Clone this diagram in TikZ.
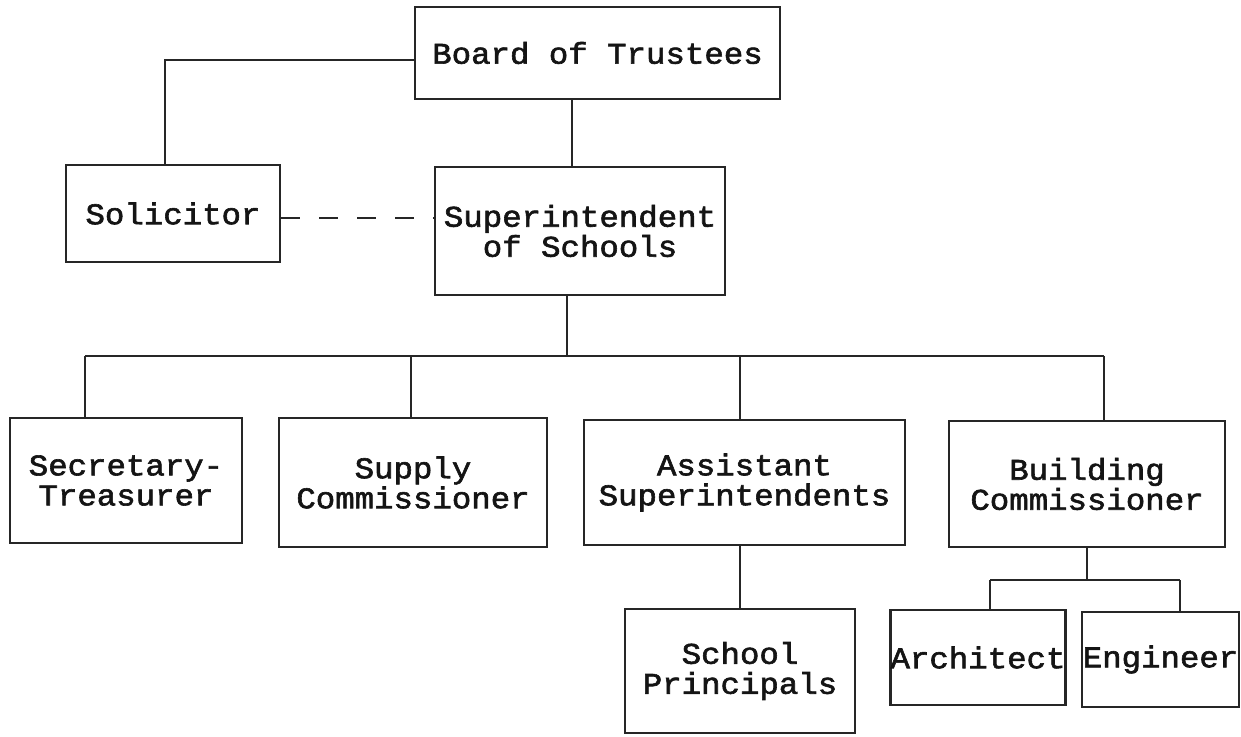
\documentclass[tikz,border=0pt]{standalone}
\usepackage{fontspec}
\newfontfamily\typewriter[FakeStretch=1.08,FakeBold=2]{Liberation Mono}
\definecolor{ink}{HTML}{262626}
\begin{document}
\begin{tikzpicture}[x=1pt,y=-1pt,
  office/.style={draw=ink, line width=2.8pt, rectangle, inner sep=0pt,
    align=center, text=black!92,
    font=\typewriter\fontsize{30}{30}\selectfont},
  link/.style={draw=ink, line width=2.4pt},
  advisory/.style={link, dash pattern=on 19pt off 19pt}]
\useasboundingbox (0,0) rectangle (1241,736);

% offices
\node[office, minimum width=365pt, minimum height=92pt]  (board) at (597.5,53)   {Board of Trustees};
\node[office, minimum width=214pt, minimum height=97pt]  (sol)   at (173,213.5)  {Solicitor};
\node[office, minimum width=290pt, minimum height=128pt] (supt)  at (580,231)    {Superintendent\\of Schools};
\node[office, minimum width=232pt, minimum height=125pt] (sec)   at (126,480.5)  {Secretary-\\Treasurer};
\node[office, minimum width=268pt, minimum height=129pt] (supply) at (413,482.5) {Supply\\Commissioner};
\node[office, minimum width=321pt, minimum height=125pt] (asst)  at (744.5,482.5) {Assistant\\Superintendents};
\node[office, minimum width=276pt, minimum height=126pt] (bldg)  at (1087,484)   {Building\\Commissioner};
\node[office, minimum width=230pt, minimum height=124pt] (prin)  at (740,671)    {School\\Principals};
\node[office, minimum width=174pt, minimum height=95pt]  (arch)  at (978,657.5)  {Architect};
\node[office, minimum width=157pt, minimum height=95pt]  (eng)   at (1160.5,659.5) {Engineer};

% routing points
\coordinate (solcorner) at (165,60);
\coordinate (boardx) at (572,0);
\coordinate (dashy) at (0,218);
\coordinate (bus) at (567,356);
\coordinate (busL) at (85,356);
\coordinate (busR) at (1104,356);
\coordinate (xsupply) at (411,0);
\coordinate (xasst) at (740,0);
\coordinate (bbus) at (1087,580);
\coordinate (bbusL) at (990,580);
\coordinate (bbusR) at (1180,580);

% board to solicitor and superintendent
\draw[link] (board.west |- solcorner) -- (solcorner) -- (sol.north -| solcorner);
\draw[link] (board.south -| boardx) -- (supt.north -| boardx);
\draw[advisory] (sol.east |- dashy) -- (supt.west |- dashy);

% superintendent to department heads
\draw[link] (supt.south -| bus) -- (bus);
\draw[link] (busL) -- (busR);
\draw[link] (busL) -- (sec.north -| busL);
\draw[link] (busL -| xsupply) -- (supply.north -| xsupply);
\draw[link] (busL -| xasst) -- (asst.north -| xasst);
\draw[link] (busR) -- (bldg.north -| busR);

% lower levels
\draw[link] (asst.south -| xasst) -- (prin.north -| xasst);
\draw[link] (bldg.south -| bbus) -- (bbus);
\draw[link] (bbusL) -- (bbusR);
\draw[link] (bbusL) -- (arch.north -| bbusL);
\draw[link] (bbusR) -- (eng.north -| bbusR);
\end{tikzpicture}
\end{document}
